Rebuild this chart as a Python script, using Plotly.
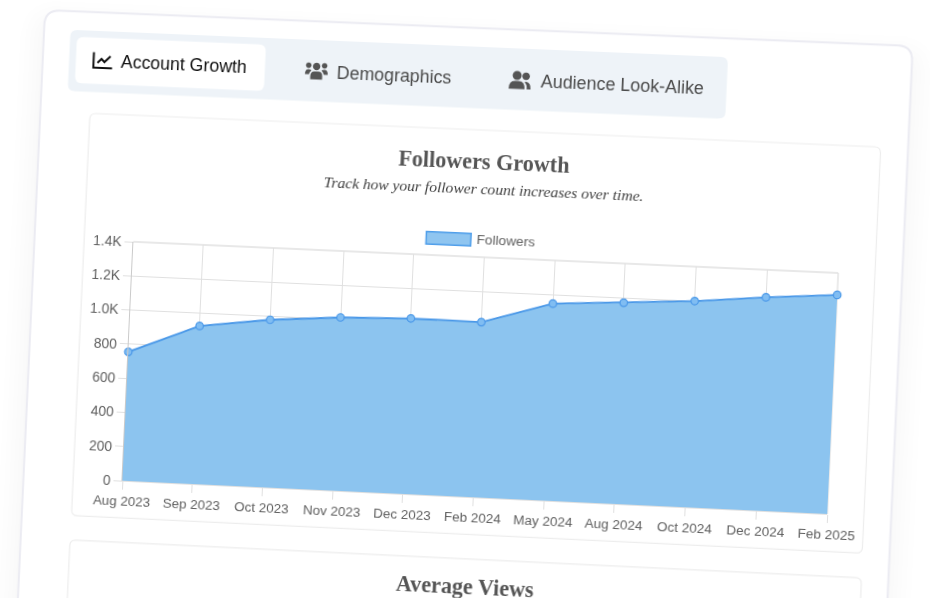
import numpy as np
import plotly.graph_objects as go

months = ["Aug 2023", "Sep 2023", "Oct 2023", "Nov 2023", "Dec 2023", "Feb 2024",
          "May 2024", "Aug 2024", "Oct 2024", "Dec 2024", "Feb 2025"]
followers = [755, 925, 980, 1012, 1025, 1022, 1148, 1172, 1200, 1240, 1272]
y_ticks = [0, 200, 400, 600, 800, 1000, 1200, 1400]
y_tick_labels = ["0", "200", "400", "600", "800", "1.0K", "1.2K", "1.4K"]

FIG_W, FIG_H = 1107, 760
ML, MT, PW, PH = 200, 320, 707, 240

# flat plot corners -> where they land in the tilted screenshot
flat_pts = [(ML, MT), (ML + PW, MT), (ML + PW, MT + PH), (ML, MT + PH)]
ref_pts = [(133.4, 241.8), (838.3, 273.0), (827.3, 514.0), (122.4, 480.7)]


def homography(src, dst):
    rows, rhs = [], []
    for (x, y), (u, v) in zip(src, dst):
        rows.append([x, y, 1, 0, 0, 0, -u * x, -u * y])
        rows.append([0, 0, 0, x, y, 1, -v * x, -v * y])
        rhs += [u, v]
    h = np.linalg.solve(np.array(rows, float), np.array(rhs, float))
    return np.append(h, 1).reshape(3, 3)


H = homography(flat_pts, ref_pts)
H_inv = np.linalg.inv(H)


def flat(x, y):
    p = H_inv @ np.array([x, y, 1.0])
    return p[0] / p[2], p[1] / p[2]


def px(x):
    return (x - ML) / PW


def py(y):
    return 1 - (y - MT) / PH


def pt(x, y):
    return f"{px(x):.5f},{py(y):.5f}"


def rrect_path(x0, y0, x1, y1, r):
    return (f"M{pt(x0 + r, y0)} L{pt(x1 - r, y0)} Q{pt(x1, y0)} {pt(x1, y0 + r)} "
            f"L{pt(x1, y1 - r)} Q{pt(x1, y1)} {pt(x1 - r, y1)} "
            f"L{pt(x0 + r, y1)} Q{pt(x0, y1)} {pt(x0, y1 - r)} "
            f"L{pt(x0, y0 + r)} Q{pt(x0, y0)} {pt(x0 + r, y0)} Z")


def circle_path(cx, cy, r):
    k = 0.5523 * r
    return (f"M{pt(cx - r, cy)} C{pt(cx - r, cy - k)} {pt(cx - k, cy - r)} {pt(cx, cy - r)} "
            f"C{pt(cx + k, cy - r)} {pt(cx + r, cy - k)} {pt(cx + r, cy)} "
            f"C{pt(cx + r, cy + k)} {pt(cx + k, cy + r)} {pt(cx, cy + r)} "
            f"C{pt(cx - k, cy + r)} {pt(cx - r, cy + k)} {pt(cx - r, cy)} Z")


def body_path(cx, cy, cmds):
    out = []
    for c, coords in cmds:
        pts = " ".join(pt(cx + coords[i], cy + coords[i + 1]) for i in range(0, len(coords), 2))
        out.append(c + pts)
    return " ".join(out) + " Z"


shapes = []


def add_path(path, fill="rgba(0,0,0,0)", line="rgba(0,0,0,0)", width=0):
    shapes.append(dict(type="path", xref="paper", yref="paper", path=path, layer="below",
                       fillcolor=fill, line=dict(color=line, width=width)))


def add_card(tl, tr, bottom, r, fill, line=None, width=0):
    x0, y0 = flat(*tl)
    x1, _ = flat(*tr)
    _, y1 = flat(*bottom)
    add_path(rrect_path(x0, y0, x1, y1, r), fill, line or "rgba(0,0,0,0)", width)


# outer card, soft shadow first
cx0, cy0 = flat(45, 10)
cx1, _ = flat(912.7, 48)
for grow in [24, 19, 14, 10, 6, 3]:
    add_path(rrect_path(cx0 - grow, cy0 - grow + 14, cx1 + grow, FIG_H + 40, 16 + grow),
             "rgba(60,60,110,0.005)")
add_path(rrect_path(cx0, cy0, cx1, FIG_H + 40, 15), "#ffffff", "#ebebf2", 2)

# tab strip and active tab
add_card((70.5, 29.8), (728, 59.5), (727, 119), 7, "#eef3f8")
add_card((77, 36.8), (266, 45), (265, 91), 7, "#ffffff")

# inner cards
add_card((90, 113.3), (880.7, 149.3), (861.7, 553.3), 6, "#ffffff", "#ededed", 1.2)
add_card((70, 540), (861.7, 576.7), (850, 900), 6, "#ffffff", "#ededed", 1.2)

# top and right edge of the grid, plotly leaves out gridlines on the range ends
shapes.append(dict(type="line", xref="paper", yref="paper", x0=0, x1=1, y0=1, y1=1, layer="below",
                   line=dict(color="#e0e0e0", width=1.3)))
shapes.append(dict(type="line", xref="paper", yref="paper", x0=1, x1=1, y0=0, y1=1, layer="below",
                   line=dict(color="#e0e0e0", width=1.3)))

# chart-line icon
ix, iy = flat(102.5, 61)
add_path(" ".join([f"M{pt(ix - 9, iy - 8.5)}", f"L{pt(ix - 9, iy + 7)}", f"L{pt(ix + 10, iy + 7)}"]),
         line="#111111", width=2)
add_path(" ".join([f"M{pt(ix - 5, iy + 2)}", f"L{pt(ix - 1, iy - 2)}", f"L{pt(ix + 2, iy + 1)}",
                   f"L{pt(ix + 8, iy - 5)}"]), line="#111111", width=2)

# users icon
ix, iy = flat(316.5, 70.5)
for c, r in [((0, -4), 3.7), ((-8, -5), 2.8), ((8, -5), 2.8)]:
    add_path(circle_path(ix + c[0], iy + c[1], r), "#555555")
add_path(body_path(ix, iy, [("M", [-6, 9]), ("L", [-6, 6]), ("Q", [-6, 1, -2, 1]), ("L", [2, 1]),
                            ("Q", [6, 1, 6, 6]), ("L", [6, 9])]), "#555555")
add_path(body_path(ix, iy, [("M", [-11.5, 4]), ("Q", [-11.5, -1, -8, -1]), ("Q", [-6, -1, -5, 0]),
                            ("Q", [-7, 1.5, -7.5, 4])]), "#555555")
add_path(body_path(ix, iy, [("M", [11.5, 4]), ("Q", [11.5, -1, 8, -1]), ("Q", [6, -1, 5, 0]),
                            ("Q", [7, 1.5, 7.5, 4])]), "#555555")

# user-friends icon
ix, iy = flat(520, 80)
add_path(circle_path(ix - 3, iy - 4.5, 4.5), "#555555")
add_path(circle_path(ix + 6, iy - 4, 3.8), "#555555")
add_path(body_path(ix, iy, [("M", [-11, 9]), ("Q", [-11, 1, -5, 1]), ("L", [-1, 1]),
                            ("Q", [5, 1, 5, 9])]), "#555555")
add_path(body_path(ix, iy, [("M", [7, 9]), ("L", [11, 9]), ("Q", [11, 2, 6.5, 1.5]),
                            ("Q", [5, 1.5, 4.5, 2]), ("Q", [7.5, 4, 7, 9])]), "#555555")

# legend swatch
add_card((426.5, 231.5), (471.2, 233.5), (470, 246), 0, "#8fc5f0", "#4f9eea", 1.5)

annotations = []


def add_text(text, x, y, size, color, family="Liberation Sans"):
    fx, fy = flat(x, y)
    annotations.append(dict(text=text, xref="paper", yref="paper", x=px(fx), y=py(fy),
                            xanchor="center", yanchor="middle", showarrow=False,
                            font=dict(family=family, size=size, color=color)))


add_text("Account Growth", 184, 64.8, 17.9, "#111111")
add_text("Demographics", 394, 75, 17.9, "#4a4a4a")
add_text("Audience Look-Alike", 622, 85, 17.9, "#4a4a4a")
add_text("<b>Followers Growth</b>", 484, 162, 22.2, "#555555", "Liberation Serif")
add_text("<i>Track how your follower count increases over time.</i>", 483.5, 189, 15.6, "#3f3f3f",
         "Liberation Serif")
add_text("Followers", 506, 241, 13.7, "#5f5f5f")
add_text("<b>Average Views</b>", 465, 587, 22.2, "#555555", "Liberation Serif")

fig = go.Figure()
fig.add_trace(go.Scatter(
    x=months, y=followers, mode="lines+markers", fill="tozeroy", fillcolor="#8cc4ef",
    line=dict(color="#4a98e8", width=1.8),
    marker=dict(size=7.5, color="#80bdf2", line=dict(color="#4a98e8", width=1.2)),
    cliponaxis=False, showlegend=False,
))
fig.update_layout(
    width=FIG_W, height=FIG_H, autosize=False,
    margin=dict(l=ML, r=FIG_W - ML - PW, t=MT, b=FIG_H - MT - PH),
    paper_bgcolor="#ffffff", plot_bgcolor="rgba(0,0,0,0)",
    shapes=shapes, annotations=annotations, hovermode=False,
    font=dict(family="Liberation Sans", size=13.5, color="#5f5f5f"),
)
fig.update_xaxes(type="category", categoryorder="array", categoryarray=months, range=[0, 10],
                 showgrid=True, gridcolor="#e0e0e0", gridwidth=1.3, zeroline=False,
                 showline=True, linecolor="#e0e0e0", linewidth=1.3, ticks="outside", ticklen=8,
                 tickcolor="#e0e0e0", tickwidth=1.3, tickangle=0, ticklabelstandoff=0)
fig.update_yaxes(range=[0, 1400], tickvals=y_ticks, ticktext=y_tick_labels,
                 tickfont=dict(size=14), showgrid=True, gridcolor="#e0e0e0", gridwidth=1.3,
                 zeroline=False, showline=True, linecolor="#cacaca", linewidth=1.3,
                 ticks="outside", ticklen=8, tickcolor="#e0e0e0", tickwidth=1.3,
                 ticklabelstandoff=0)

m = H
matrix = [m[0, 0], m[1, 0], 0, m[2, 0], m[0, 1], m[1, 1], 0, m[2, 1],
          0, 0, 1, 0, m[0, 2], m[1, 2], 0, m[2, 2]]
matrix_css = ",".join(f"{v:.10f}" for v in matrix)

# plotly has no tilted page, so the finished plot gets the screenshot's perspective through css
post_script = f"""
var gd = document.getElementById('{{plot_id}}');
document.documentElement.style.overflow = 'hidden';
document.body.style.margin = '0';
document.body.style.overflow = 'hidden';
gd.style.position = 'absolute';
gd.style.left = '0';
gd.style.top = '0';
gd.style.transformOrigin = '0 0';
gd.style.filter = 'blur(0.3px)';
gd.style.transform = 'matrix3d({matrix_css})';
"""

fig.write_html("out.html", post_script=post_script)
